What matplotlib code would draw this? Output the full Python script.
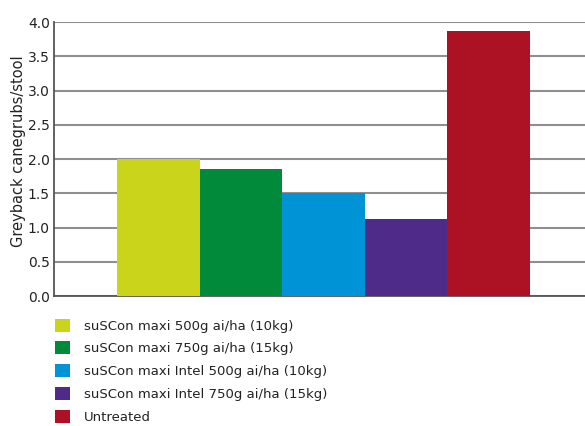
import matplotlib.pyplot as plt
from matplotlib.patches import Patch

plt.rcParams['font.family'] = ['DejaVu Sans']

treatments = ['suSCon maxi 500g ai/ha (10kg)',
              'suSCon maxi 750g ai/ha (15kg)',
              'suSCon maxi Intel 500g ai/ha (10kg)',
              'suSCon maxi Intel 750g ai/ha (15kg)',
              'Untreated']
grubs = [2.0, 1.85, 1.5, 1.12, 3.87]
colors = ['#cad41b', '#008a3a', '#0094d6', '#4e2b88', '#ac1124']
yticks = [0.0, 0.5, 1.0, 1.5, 2.0, 2.5, 3.0, 3.5, 4.0]

fig = plt.figure(figsize=(5.85, 4.26), dpi=100)
ax = fig.add_axes([0.0923, 0.305, 0.9077, 0.643])

x = list(range(len(grubs)))
ax.bar(x, grubs, width=1.0, color=colors, zorder=3)

ax.set_xlim(-1.264, 5.17)
ax.set_ylim(0, 4.0)
ax.set_yticks(yticks)
ax.set_yticklabels(['%.1f' % t for t in yticks], fontsize=10, color='#222222')
ax.set_xticks([])
ax.yaxis.grid(True, color='#8f8f8f', linewidth=1.5, zorder=0)
ax.tick_params(axis='y', length=0, pad=3)
ax.set_ylabel('Greyback canegrubs/stool', fontsize=10.5, color='#222222')
ax.yaxis.set_label_coords(-0.053, 0.53)

for s in ['top', 'right']:
    ax.spines[s].set_visible(False)
ax.spines['left'].set_color('#555555')
ax.spines['bottom'].set_color('#555555')
ax.spines['left'].set_linewidth(1.3)
ax.spines['bottom'].set_linewidth(1.3)

handles = [Patch(facecolor=c, edgecolor='none') for c in colors]
fig.legend(handles, treatments, loc='upper left', bbox_to_anchor=(0.094, 0.252),
           frameon=False, fontsize=9.5, handlelength=1.15, handleheight=1.15,
           handletextpad=1.05, labelspacing=0.66, borderaxespad=0, borderpad=0,
           labelcolor='#222222')

fig.savefig('out.png', dpi=100, facecolor='white')
